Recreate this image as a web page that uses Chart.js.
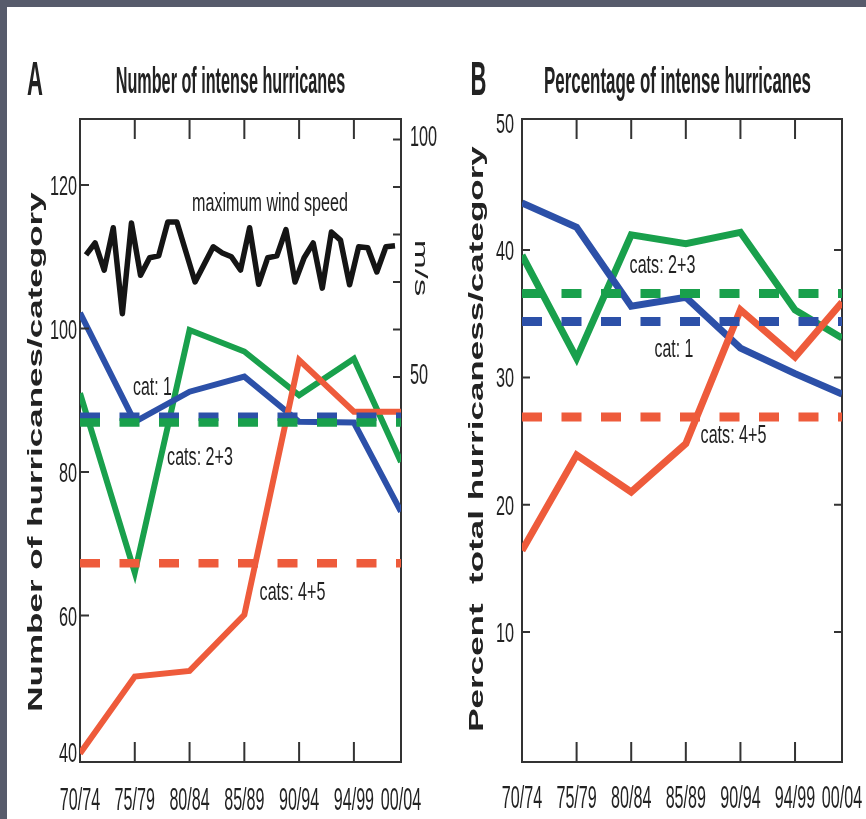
<!DOCTYPE html>
<html><head><meta charset="utf-8">
<script src="https://cdn.jsdelivr.net/npm/chart.js@4.4.1/dist/chart.umd.min.js"></script>
<style>
html,body{margin:0;padding:0;background:#fff;}
body{width:866px;height:819px;position:relative;overflow:hidden;}
#frameTop{position:absolute;left:0;top:0;width:866px;height:7px;background:#575b6b;}
#frameLeft{position:absolute;left:0;top:0;width:7px;height:819px;background:#575b6b;}
#wa{position:absolute;left:0;top:0;width:445px;height:819px;}
#wb{position:absolute;left:445px;top:0;width:421px;height:819px;}
</style></head><body>
<div id="wa"><canvas id="ca" width="445" height="819"></canvas></div>
<div id="wb"><canvas id="cb" width="421" height="819"></canvas></div>
<div id="frameTop"></div><div id="frameLeft"></div>
<script>
// ---------- data ----------
const periods = ['70/74','75/79','80/84','85/89','90/94','94/99','00/04'];
const periodX = [1972, 1977, 1982, 1987, 1992, 1997, 2001.3];

// Panel A: number of hurricanes per category
const countCat1  = [102.2, 87.0, 91.2, 93.3, 87.0, 86.9, 74.5];
const countCat23 = [91.0, 66.0, 99.8, 96.8, 90.7, 95.8, 81.4];
const countCat45 = [40.8, 51.5, 52.3, 60.1, 95.6, 88.4, 88.4];
const meanCountCat1 = 87.7;
const meanCountCat23 = 86.9;
const meanCountCat45 = 67.3;
const countTicks = [40, 60, 80, 100, 120];

// Panel A: maximum wind speed (m/s), yearly
const windYears = [1970,1971,1972,1973,1974,1975,1976,1977,1978,1979,
                   1980,1981,1982,1983,1984,1985,1986,1987,1988,1989,
                   1990,1991,1992,1993,1994,1995,1996,1997,1998,1999,
                   2000,2001,2002,2003,2004];
const windSpeed = [75.7,78.2,72.5,81.4,63.3,82.4,71.4,75.1,75.5,82.6,
                   82.6,76.3,70.0,73.7,77.4,76.1,75.3,72.5,81.4,69.5,
                   75.1,75.5,81.0,70.0,75.1,78.2,68.7,80.5,78.8,69.4,
                   77.4,77.2,72.1,77.4,77.6];
const windTicks = [50, 60, 70, 80, 90, 100];
const windTickLabels = [50, 100];

// Panel B: percentage of total hurricanes per category
const pctCat1  = [43.7, 41.8, 35.6, 36.3, 32.3, 30.3, 28.7];
const pctCat23 = [39.6, 31.5, 41.2, 40.5, 41.4, 35.3, 33.1];
const pctCat45 = [16.4, 23.9, 21.0, 24.8, 35.3, 31.6, 35.9];
const meanPctCat1 = 34.4;
const meanPctCat23 = 36.6;
const meanPctCat45 = 26.9;
const pctTicks = [10, 20, 30, 40, 50];

// ---------- styles ----------
const BLUE = '#2c50a8', GREEN = '#19a04c', RED = '#ee5b3b', BLACK = '#151515', INK = '#222';
const FONT = '"Liberation Sans", Arial, Helvetica, sans-serif';

function txt(ctx, s, x, y, o) {
  ctx.save();
  ctx.fillStyle = o.color || INK;
  ctx.font = (o.bold ? 'bold ' : '') + o.size + 'px ' + FONT;
  ctx.textAlign = o.align || 'center';
  ctx.textBaseline = 'alphabetic';
  ctx.translate(x, y);
  if (o.rot) ctx.rotate(o.rot);
  ctx.scale(o.sx || 1, o.sy || 1);
  ctx.fillText(s, 0, 0);
  ctx.restore();
}

function series(xs, ys) { return xs.map((x, i) => ({x: x, y: ys[i]})); }
function flat(v) { return periodX.map(x => ({x: x, y: v})); }

function solid(label, data, color, w, order) {
  return {label, data, borderColor: color, borderWidth: w, pointRadius: 0, tension: 0, fill: false, order};
}
function dashed(label, data, color, w, order) {
  return {label, data, borderColor: color, borderWidth: w, borderDash: [20, 19.5], borderCapStyle: 'butt', pointRadius: 0, tension: 0, fill: false, order};
}
function frameAxis(pos, min, max) {
  return {type: 'linear', position: pos, min, max, display: true,
    ticks: {display: false}, grid: {display: false, drawTicks: false, tickLength: 0},
    border: {display: true, color: '#333', width: 2}};
}
function baseOptions(pad, scales) {
  return {
    responsive: false, animation: false, devicePixelRatio: 1,
    layout: {padding: pad},
    plugins: {legend: {display: false}, tooltip: {enabled: false}, title: {display: false}},
    scales
  };
}

function drawPeriodTicks(ctx, ca, sx, len) {
  for (let i = 1; i < periodX.length - 1; i++) {
    const px = sx.getPixelForValue(periodX[i]);
    ctx.moveTo(px, ca.top); ctx.lineTo(px, ca.top + len);
    ctx.moveTo(px, ca.bottom); ctx.lineTo(px, ca.bottom - len);
  }
}

// ---------- Panel A ----------
const decorA = {
  id: 'decorA',
  afterDraw(chart) {
    const {ctx, chartArea: ca, scales} = chart;
    const sx = scales.x, sy = scales.y, sw = scales.yw;
    ctx.save();
    ctx.strokeStyle = '#333'; ctx.lineWidth = 2;
    ctx.beginPath();
    drawPeriodTicks(ctx, ca, sx, 20);
    countTicks.forEach(v => {
      const py = sy.getPixelForValue(v);
      if (py > ca.top + 4 && py < ca.bottom - 4) { ctx.moveTo(ca.left, py); ctx.lineTo(ca.left + 9, py); }
    });
    windTicks.forEach(v => {
      const py = sw.getPixelForValue(v);
      ctx.moveTo(ca.right - 8, py); ctx.lineTo(ca.right, py);
    });
    ctx.stroke();
    ctx.restore();

    periods.forEach((p, i) => txt(ctx, p, sx.getPixelForValue(periodX[i]), ca.bottom + 48, {size: 31, sx: 0.52}));
    countTicks.forEach(v => {
      const py = Math.min(sy.getPixelForValue(v), ca.bottom - 10);
      txt(ctx, String(v), ca.left - 3, py + 10, {size: 28, sx: 0.58, align: 'right'});
    });
    windTickLabels.forEach(v => {
      txt(ctx, String(v), ca.right + 9, sw.getPixelForValue(v) + 7, {size: 29, sx: 0.56, align: 'left'});
    });
    txt(ctx, 'm/s', ca.right + 14, 268, {size: 35, sy: 0.55, rot: Math.PI / 2});
    txt(ctx, 'Number of hurricanes/category', 42, 452, {size: 35, bold: true, sy: 0.6, rot: -Math.PI / 2});
    txt(ctx, 'A', 35, 95, {size: 48, bold: true, sx: 0.46});
    txt(ctx, 'Number of intense hurricanes', 230.5, 93, {size: 36, bold: true, sx: 0.45});
    txt(ctx, 'maximum wind speed', 270, 211, {size: 25, sx: 0.645});
    txt(ctx, 'cat: 1', 152.5, 395, {size: 26, sx: 0.61});
    txt(ctx, 'cats: 2+3', 200, 465, {size: 26, sx: 0.62});
    txt(ctx, 'cats: 4+5', 292.5, 600, {size: 26, sx: 0.62});
  }
};

new Chart(document.getElementById('ca'), {
  type: 'line',
  data: {datasets: [
    Object.assign(solid('maximum wind speed', series(windYears, windSpeed), BLACK, 5.5, 7), {xAxisID: 'xw', yAxisID: 'yw', borderJoinStyle: 'round'}),
    Object.assign(solid('cat: 1', series(periodX, countCat1), BLUE, 6, 5), {xAxisID: 'x', yAxisID: 'y'}),
    Object.assign(solid('cats: 2+3', series(periodX, countCat23), GREEN, 6, 6), {xAxisID: 'x', yAxisID: 'y'}),
    Object.assign(solid('cats: 4+5', series(periodX, countCat45), RED, 6, 4), {xAxisID: 'x', yAxisID: 'y'}),
    Object.assign(dashed('mean cat: 1', flat(meanCountCat1), BLUE, 8.5, 3), {xAxisID: 'x', yAxisID: 'y'}),
    Object.assign(dashed('mean cats: 2+3', flat(meanCountCat23), GREEN, 8.5, 2), {xAxisID: 'x', yAxisID: 'y'}),
    Object.assign(dashed('mean cats: 4+5', flat(meanCountCat45), RED, 8.5, 1), {xAxisID: 'x', yAxisID: 'y'})
  ]},
  options: baseOptions({left: 80, right: 44, top: 119, bottom: 57}, {
    x: frameAxis('bottom', 1972, 2001.3),
    xTop: frameAxis('top', 1972, 2001.3),
    y: frameAxis('left', 39.6, 129.2),
    yw: frameAxis('right', -31.05, 104.3),
    xw: {type: 'linear', display: false, min: 1969.34, max: 2004.66}
  }),
  plugins: [decorA]
});

// ---------- Panel B ----------
const decorB = {
  id: 'decorB',
  afterDraw(chart) {
    const {ctx, chartArea: ca, scales} = chart;
    const sx = scales.x, sy = scales.y;
    ctx.save();
    ctx.strokeStyle = '#333'; ctx.lineWidth = 2;
    ctx.beginPath();
    drawPeriodTicks(ctx, ca, sx, 20);
    pctTicks.forEach(v => {
      const py = sy.getPixelForValue(v);
      if (py > ca.top + 4 && py < ca.bottom - 4) {
        ctx.moveTo(ca.left, py); ctx.lineTo(ca.left + 8, py);
        ctx.moveTo(ca.right - 8, py); ctx.lineTo(ca.right, py);
      }
    });
    ctx.stroke();
    ctx.restore();

    periods.forEach((p, i) => txt(ctx, p, sx.getPixelForValue(periodX[i]), ca.bottom + 46, {size: 31, sx: 0.52}));
    pctTicks.forEach(v => {
      txt(ctx, String(v), ca.left - 8, sy.getPixelForValue(v) + 10, {size: 28, sx: 0.58, align: 'right'});
    });
    txt(ctx, 'Percent  total hurricaness/category', 38, 439, {size: 35, bold: true, sy: 0.6, rot: -Math.PI / 2});
    txt(ctx, 'B', 33.5, 95, {size: 48, bold: true, sx: 0.46});
    txt(ctx, 'Percentage of intense hurricanes', 232.5, 93, {size: 36, bold: true, sx: 0.47});
    txt(ctx, 'cats: 2+3', 217.5, 273, {size: 26, sx: 0.62});
    txt(ctx, 'cat: 1', 229, 357, {size: 26, sx: 0.61});
    txt(ctx, 'cats: 4+5', 288.5, 443, {size: 26, sx: 0.62});
  }
};

new Chart(document.getElementById('cb'), {
  type: 'line',
  data: {datasets: [
    Object.assign(solid('cat: 1', series(periodX, pctCat1), BLUE, 7, 5), {xAxisID: 'x', yAxisID: 'y'}),
    Object.assign(solid('cats: 2+3', series(periodX, pctCat23), GREEN, 7, 6), {xAxisID: 'x', yAxisID: 'y'}),
    Object.assign(solid('cats: 4+5', series(periodX, pctCat45), RED, 7, 4), {xAxisID: 'x', yAxisID: 'y'}),
    Object.assign(dashed('mean cat: 1', flat(meanPctCat1), BLUE, 9, 3), {xAxisID: 'x', yAxisID: 'y'}),
    Object.assign(dashed('mean cats: 2+3', flat(meanPctCat23), GREEN, 9, 2), {xAxisID: 'x', yAxisID: 'y'}),
    Object.assign(dashed('mean cats: 4+5', flat(meanPctCat45), RED, 9, 1), {xAxisID: 'x', yAxisID: 'y'})
  ]},
  options: baseOptions({left: 77, right: 24, top: 119, bottom: 57}, {
    x: frameAxis('bottom', 1972, 2001.3),
    xTop: frameAxis('top', 1972, 2001.3),
    y: frameAxis('left', -0.21, 50.3),
    y2: frameAxis('right', -0.21, 50.3)
  }),
  plugins: [decorB]
});
</script>
</body></html>
